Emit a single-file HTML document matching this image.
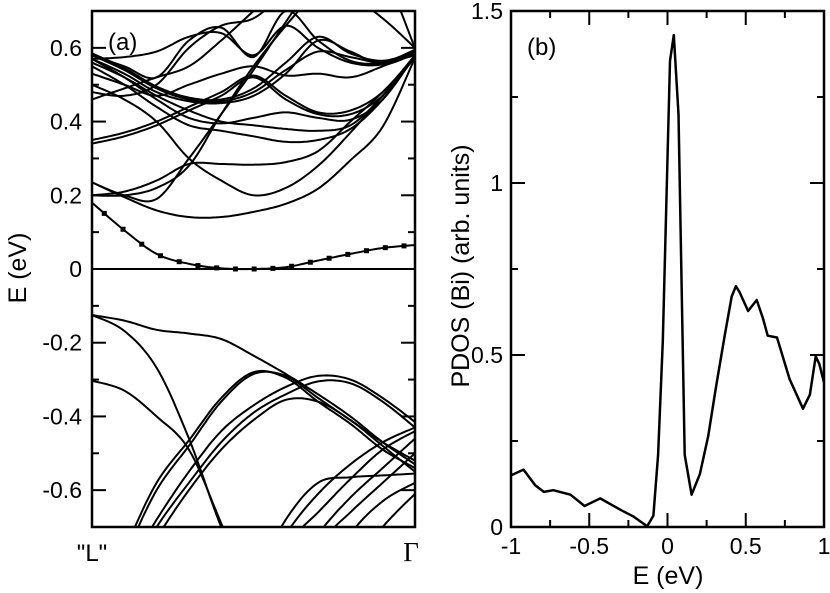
<!DOCTYPE html>
<html><head><meta charset="utf-8"><style>
html,body{margin:0;padding:0;background:#fff;overflow:hidden;width:830px;height:593px;}
svg{display:block;}
svg text{font-family:"Liberation Sans",sans-serif;fill:#000;}
</style></head><body>
<svg id="fig" width="830" height="593" viewBox="0 0 830 593">
<defs>
<clipPath id="clipA"><rect x="92" y="11" width="323" height="516"/></clipPath>
<clipPath id="clipB"><rect x="511" y="11" width="313" height="516"/></clipPath>
</defs>
<g id="panelA"></g>
<g id="panelB"></g>
</svg>
<script>
// ---- Panel (a) data: band energies (eV) at k = 0,0.1,...,1 ("L" -> Gamma)
const kGrid = [0,0.1,0.2,0.3,0.4,0.5,0.6,0.7,0.8,0.9,1.0];
const markedBand = [0.18,0.105,0.041,0.014,0.002,0,0.005,0.023,0.041,0.057,0.065];
const conductionBands = [
 [0.235,0.195,0.159,0.141,0.141,0.155,0.177,0.218,0.295,0.386,0.573],
 [0.235,0.2,0.19,0.3,0.42,0.54,0.67,0.8,0.9,0.95,1.0],
 [0.2,0.21,0.24,0.285,0.285,0.283,0.29,0.32,0.40,0.48,0.575],
 [0.2,0.2,0.22,0.28,0.42,0.55,0.66,0.76,0.85,0.9,0.95],
 [0.50,0.46,0.40,0.30,0.24,0.2,0.22,0.28,0.37,0.47,0.575],
 [0.55,0.50,0.44,0.39,0.375,0.36,0.345,0.35,0.38,0.46,0.578],
 [0.57,0.52,0.46,0.41,0.395,0.41,0.425,0.41,0.405,0.46,0.58],
 [0.35,0.37,0.40,0.44,0.48,0.525,0.47,0.425,0.43,0.48,0.58],
 [0.34,0.36,0.39,0.43,0.47,0.52,0.46,0.42,0.42,0.47,0.575],
 [0.58,0.54,0.49,0.46,0.455,0.48,0.54,0.59,0.575,0.56,0.58],
 [0.57,0.53,0.48,0.455,0.45,0.47,0.53,0.62,0.59,0.555,0.585],
 [0.585,0.545,0.495,0.465,0.46,0.49,0.56,0.63,0.585,0.565,0.59],
 [0.57,0.575,0.59,0.63,0.64,0.58,0.66,0.6,0.56,0.555,0.59],
 [0.58,0.55,0.52,0.62,0.655,0.575,0.7,0.62,0.565,0.56,0.595],
 [0.48,0.47,0.5,0.6,0.66,0.68,0.75,0.8,0.82,0.8,0.6],
 [0.46,0.49,0.52,0.55,0.62,0.7,0.78,0.85,0.9,0.95,1.0],
 [0.53,0.50,0.47,0.50,0.53,0.55,0.525,0.53,0.52,0.55,0.585],
 [0.95,0.9,0.86,0.82,0.8,0.78,0.77,0.75,0.74,0.68,0.6],
 [0.56,0.52,0.47,0.43,0.40,0.39,0.38,0.375,0.39,0.47,0.58]
];
const valenceBands = [
 [-0.125,-0.14,-0.165,-0.175,-0.19,-0.235,-0.285,-0.34,-0.40,-0.47,-0.53],
 [-0.125,-0.168,-0.268,-0.46,-0.70,-0.9,-1.1,-1.2,-1.3,-1.4,-1.5],
 [-0.303,-0.33,-0.40,-0.49,-0.69,-0.9,-1.1,-1.2,-1.3,-1.4,-1.5],
 [-0.95,-0.78,-0.6,-0.48,-0.36,-0.285,-0.29,-0.35,-0.41,-0.47,-0.52],
 [-0.93,-0.76,-0.58,-0.465,-0.35,-0.28,-0.295,-0.36,-0.42,-0.49,-0.54],
 [-0.95,-0.83,-0.68,-0.55,-0.44,-0.37,-0.32,-0.29,-0.30,-0.35,-0.415],
 [-0.97,-0.85,-0.70,-0.58,-0.47,-0.39,-0.34,-0.305,-0.31,-0.36,-0.43],
 [-1.0,-0.88,-0.73,-0.6,-0.49,-0.41,-0.355,-0.36,-0.41,-0.48,-0.55],
 [-1.5,-1.4,-1.3,-1.2,-1.05,-0.85,-0.68,-0.58,-0.565,-0.56,-0.555],
 [-1.5,-1.4,-1.3,-1.2,-1.05,-0.88,-0.72,-0.61,-0.53,-0.47,-0.43],
 [-1.5,-1.4,-1.3,-1.2,-1.08,-0.9,-0.75,-0.66,-0.57,-0.49,-0.44],
 [-1.5,-1.4,-1.3,-1.2,-1.1,-1.0,-0.86,-0.72,-0.62,-0.54,-0.46],
 [-1.5,-1.4,-1.3,-1.2,-1.1,-1.0,-0.9,-0.75,-0.66,-0.58,-0.5],
 [-1.5,-1.4,-1.3,-1.2,-1.1,-1.0,-0.95,-0.88,-0.72,-0.63,-0.58],
 [-1.5,-1.4,-1.3,-1.2,-1.1,-1.0,-0.95,-0.9,-0.82,-0.70,-0.61]
];
const aYTicks = [-0.6,-0.4,-0.2,0,0.2,0.4,0.6];
const aYTickLabels = ["-0.6","-0.4","-0.2","0","0.2","0.4","0.6"];
// ---- Panel (b) data
const pdosE = [-1,-0.92,-0.845,-0.79,-0.73,-0.62,-0.53,-0.43,-0.30,-0.22,-0.13,-0.09,-0.06,-0.03,0.016,0.04,0.07,0.11,0.154,0.207,0.26,0.31,0.367,0.41,0.437,0.46,0.515,0.57,0.61,0.64,0.70,0.78,0.866,0.91,0.947,0.97,1.0];
const pdosV = [0.15,0.167,0.121,0.102,0.107,0.094,0.061,0.083,0.05,0.031,0.002,0.033,0.21,0.54,1.355,1.43,1.2,0.21,0.094,0.154,0.264,0.407,0.56,0.67,0.70,0.683,0.628,0.66,0.606,0.556,0.551,0.43,0.344,0.385,0.496,0.474,0.42];
const bXTicks = [-1,-0.5,0,0.5,1];
const bXTickLabels = ["-1","-0.5","0","0.5","1"];
const bYTicks = [0,0.5,1,1.5];
const bYTickLabels = ["0","0.5","1","1.5"];

const NS="http://www.w3.org/2000/svg";
function mk(parent,tag,attrs,text){const e=document.createElementNS(NS,tag);for(const a in attrs)e.setAttribute(a,attrs[a]);if(text!==undefined)e.textContent=text;parent.appendChild(e);return e;}

const ax0=92,ax1=415,ay0=527,ay1=11,eMin=-0.7,eMax=0.7;
const kx=k=>ax0+k*(ax1-ax0);
const ey=e=>ay0-(e-eMin)/(eMax-eMin)*(ay0-ay1);
const eyc=e=>ey(Math.max(eMin-0.05,Math.min(eMax+0.05,e)));
const bx0=511,bx1=824,by0=527,by1=11;
const bX=e=>bx0+(e+1)/2*(bx1-bx0);
const bY=v=>by0-v/1.5*(by0-by1);

function spline(ks,es){
  const pts=[];
  for(let i=0;i<ks.length-1;i++){
    const p0=i>0?i-1:i,p3=i+2<ks.length?i+2:i+1;
    for(let s=0;s<12;s++){const t=s/12,t2=t*t,t3=t2*t;
      const f=(a,b,c,d)=>0.5*((2*b)+(-a+c)*t+(2*a-5*b+4*c-d)*t2+(-a+3*b-3*c+d)*t3);
      pts.push([f(ks[p0],ks[i],ks[i+1],ks[p3]),f(es[p0],es[i],es[i+1],es[p3])]);}
  }
  pts.push([ks[ks.length-1],es[es.length-1]]);
  return pts;
}
const A=document.getElementById('panelA');
const gA=mk(A,'g',{'clip-path':'url(#clipA)'});


function drawBand(es,name){
  const p=spline(kGrid,es);
  const d=p.map((q,i)=>(i?'L':'M')+kx(q[0]).toFixed(1)+' '+eyc(q[1]).toFixed(1)).join('');
  const el=mk(gA,'path',{d:d,fill:'none',stroke:'#000','stroke-width':'2'});
  
  
  return p;
}
conductionBands.forEach((b,i)=>drawBand(b,'conduction-band-'+i));
valenceBands.forEach((b,i)=>drawBand(b,'valence-band-'+i));
const mp=drawBand(markedBand,'lowest-conduction-band');
for(let j=1;j<=17;j++){
  const k=0.058*j-0.02; if(k>1)break;
  let idx=0; while(idx<mp.length-1&&mp[idx+1][0]<k)idx++;
  const a=mp[idx],b=mp[Math.min(idx+1,mp.length-1)];
  const t=b[0]>a[0]?(k-a[0])/(b[0]-a[0]):0;
  const e=a[1]+t*(b[1]-a[1]);
  const m=mk(gA,'rect',{x:kx(k)-2.5,y:ey(e)-2.5,width:5,height:5,fill:'#000'});
  
  
}
const zl=mk(A,'line',{x1:ax0,x2:ax1,y1:ey(0),y2:ey(0),stroke:'#000','stroke-width':'2'});


for(let e=-0.6;e<=0.61;e+=0.1){
  const major=Math.abs(Math.round(e*10))%2===0, L=major?14:7, y=ey(e);
  mk(A,'line',{x1:ax0,x2:ax0+L,y1:y,y2:y,stroke:'#000','stroke-width':'2'});
  mk(A,'line',{x1:ax1,x2:ax1-L,y1:y,y2:y,stroke:'#000','stroke-width':'2'});
}
aYTicks.forEach((v,i)=>{const t=mk(A,'text',{x:82,y:ey(v)+8,'text-anchor':'end','font-size':'23'},aYTickLabels[i]);
  
  });
const fa=mk(A,'rect',{x:ax0,y:ay1,width:ax1-ax0,height:ay0-ay1,fill:'none',stroke:'#000','stroke-width':'2.5'});


const la=mk(A,'text',{x:108,y:50,'font-size':'24'},'(a)');


const xl1=mk(A,'text',{x:92,y:561,'text-anchor':'middle','font-size':'24'},'"L"');


const xl2=mk(A,'text',{x:411,y:561,'text-anchor':'middle','font-size':'27',style:'font-family:"Liberation Serif",serif'},'Γ');


const yt=mk(A,'text',{x:0,y:0,'text-anchor':'middle','font-size':'25',transform:'translate(26,268) rotate(-90)'},'E (eV)');



const B=document.getElementById('panelB');
const gB=mk(B,'g',{'clip-path':'url(#clipB)'});
const pd=pdosE.map((e,i)=>(i?'L':'M')+bX(e).toFixed(1)+' '+bY(pdosV[i]).toFixed(1)).join('');
const pl=mk(gB,'path',{d:pd,fill:'none',stroke:'#000','stroke-width':'2.5','stroke-linejoin':'round'});


for(let e=-1;e<=1.001;e+=0.25){const major=Math.abs(Math.round(e*4))%2===0,L=major?14:7,x=bX(e);
  mk(B,'line',{x1:x,x2:x,y1:by0,y2:by0-L,stroke:'#000','stroke-width':'2'});
  mk(B,'line',{x1:x,x2:x,y1:by1,y2:by1+L,stroke:'#000','stroke-width':'2'});}
for(let v=0;v<=1.501;v+=0.25){const major=Math.abs(Math.round(v*4))%2===0,L=major?14:7,y=bY(v);
  mk(B,'line',{x1:bx0,x2:bx0+L,y1:y,y2:y,stroke:'#000','stroke-width':'2'});
  mk(B,'line',{x1:bx1,x2:bx1-L,y1:y,y2:y,stroke:'#000','stroke-width':'2'});}
bXTicks.forEach((v,i)=>{const t=mk(B,'text',{x:bX(v),y:554,'text-anchor':'middle','font-size':'23'},bXTickLabels[i]);
  
  });
bYTicks.forEach((v,i)=>{const t=mk(B,'text',{x:503,y:bY(v)+8,'text-anchor':'end','font-size':'23'},bYTickLabels[i]);
  
  });
const fb=mk(B,'rect',{x:bx0,y:by1,width:bx1-bx0,height:by0-by1,fill:'none',stroke:'#000','stroke-width':'2.5'});


const lb=mk(B,'text',{x:527,y:55,'font-size':'24'},'(b)');


const xt=mk(B,'text',{x:668,y:584,'text-anchor':'middle','font-size':'25'},'E (eV)');


const ytb=mk(B,'text',{x:0,y:0,'text-anchor':'middle','font-size':'25',transform:'translate(469,266) rotate(-90)'},'PDOS (Bi) (arb. units)');


</script>
</body></html>
